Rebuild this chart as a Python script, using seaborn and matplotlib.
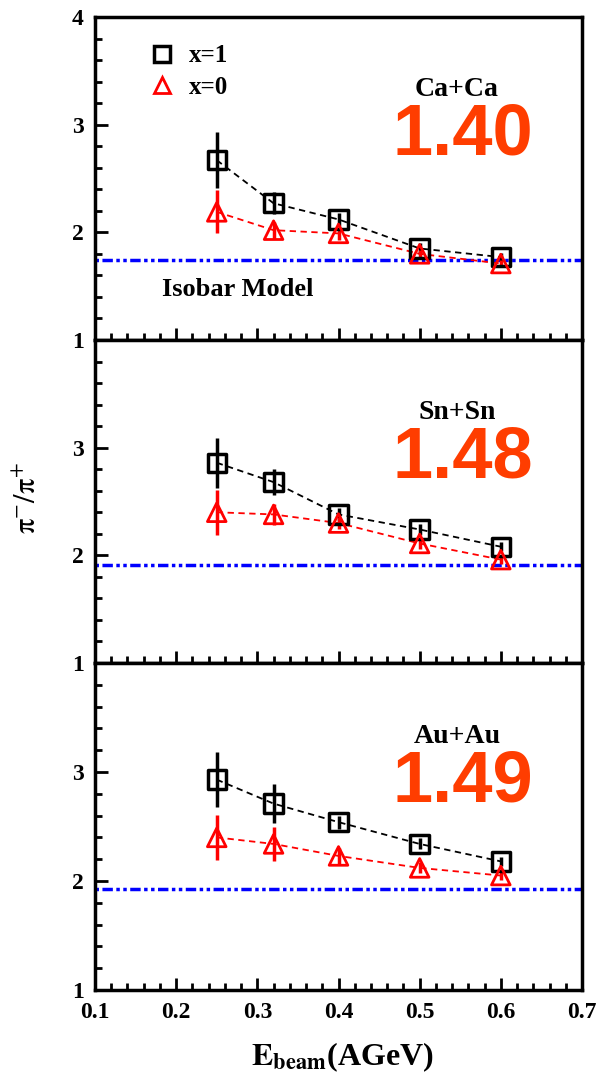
import matplotlib
matplotlib.use("Agg")
import matplotlib.pyplot as plt
from matplotlib.lines import Line2D
from matplotlib.ticker import MultipleLocator
import seaborn as sns
import pandas as pd

# beam energies (AGeV)
energy = [0.25, 0.32, 0.4, 0.5, 0.6]

# pi-/pi+ ratios, x=1 (squares) and x=0 (triangles)
ca_x1 = [2.67, 2.27, 2.12, 1.85, 1.77]
ca_x1_err = [0.26, 0.10, 0.06, 0.05, 0.04]
ca_x0 = [2.19, 2.02, 1.99, 1.80, 1.71]
ca_x0_err = [0.20, 0.08, 0.06, 0.04, 0.03]

sn_x1 = [2.86, 2.68, 2.38, 2.24, 2.08]
sn_x1_err = [0.23, 0.12, 0.06, 0.05, 0.04]
sn_x0 = [2.40, 2.38, 2.30, 2.11, 1.96]
sn_x0_err = [0.21, 0.10, 0.06, 0.05, 0.04]

au_x1 = [2.93, 2.71, 2.54, 2.34, 2.18]
au_x1_err = [0.25, 0.18, 0.06, 0.05, 0.04]
au_x0 = [2.40, 2.34, 2.23, 2.12, 2.05]
au_x0_err = [0.21, 0.16, 0.07, 0.05, 0.04]

systems = ["Ca+Ca", "Sn+Sn", "Au+Au"]
big_labels = ["1.40", "1.48", "1.49"]
isobar = [1.74, 1.91, 1.93]

panels = [
    (ca_x1, ca_x1_err, ca_x0, ca_x0_err),
    (sn_x1, sn_x1_err, sn_x0, sn_x0_err),
    (au_x1, au_x1_err, au_x0, au_x0_err),
]

sns.set_style("ticks", {"axes.edgecolor": "black", "xtick.color": "black",
                        "ytick.color": "black", "text.color": "black",
                        "axes.labelcolor": "black"})
plt.rcParams["font.family"] = ["Liberation Serif", "DejaVu Serif"]
plt.rcParams["mathtext.fontset"] = "stix"

fig = plt.figure(figsize=(5.98, 10.85), dpi=100)
left, width = 95 / 598, 487 / 598
bottom_px = [340, 663, 990]
top_px = [17, 340, 663]

axes = []
for i in range(3):
    b = 1 - bottom_px[i] / 1085
    h = (bottom_px[i] - top_px[i]) / 1085
    axes.append(fig.add_axes([left, b, width, h]))

for i, ax in enumerate(axes):
    x1, x1e, x0, x0e = panels[i]
    df = pd.DataFrame({"E": energy, "x1": x1, "x0": x0})

    ax.axhline(isobar[i], color="#0000ff", lw=2.5, ls=(0, (1, 1, 3, 1, 1, 1)), zorder=1)

    sns.lineplot(data=df, x="E", y="x1", ax=ax, color="black", lw=1.3,
                 linestyle=(0, (3.5, 2.5)), zorder=2)
    sns.lineplot(data=df, x="E", y="x0", ax=ax, color="red", lw=1.3,
                 linestyle=(0, (3.5, 2.5)), zorder=2)

    ax.errorbar(energy, x1, yerr=x1e, fmt="none", ecolor="black", elinewidth=2.5, capsize=0, zorder=3)
    ax.errorbar(energy, x0, yerr=x0e, fmt="none", ecolor="red", elinewidth=2.5, capsize=0, zorder=3)

    sns.scatterplot(x=energy, y=x1, ax=ax, marker="s", s=175, facecolor="none",
                    edgecolor="black", linewidth=2.5, zorder=4)
    sns.scatterplot(x=energy, y=x0, ax=ax, marker="^", s=180, facecolor="none",
                    edgecolor="red", linewidth=2.0, zorder=4)

    ax.set_xlim(0.1, 0.7)
    ax.set_ylim(1, 4)
    ax.set_xlabel("")
    ax.set_ylabel("")
    ax.xaxis.set_major_locator(MultipleLocator(0.1))
    ax.xaxis.set_minor_locator(MultipleLocator(0.02))
    ax.yaxis.set_major_locator(MultipleLocator(1))
    ax.yaxis.set_minor_locator(MultipleLocator(0.2))
    ax.tick_params(which="both", direction="in", top=False, right=False, width=2, colors="black")
    ax.tick_params(which="major", length=9, labelsize=17)
    ax.tick_params(which="minor", length=5)
    ax.tick_params(axis="y", pad=8)
    for s in ax.spines.values():
        s.set_linewidth(2.5)
        s.set_color("black")

    if i > 0:
        ax.set_yticks([1, 2, 3])
    if i < 2:
        ax.tick_params(axis="x", labelbottom=False)
    else:
        ax.set_xticks([0.1, 0.2, 0.3, 0.4, 0.5, 0.6, 0.7])
        ax.tick_params(axis="x", pad=9)
    for lab in ax.get_yticklabels() + ax.get_xticklabels():
        lab.set_fontweight("bold")

    ax.text(0.546, 3.33, systems[i], ha="center", va="center", fontsize=20, fontweight="bold")
    ax.text(0.553, 2.9, big_labels[i], ha="center", va="center", fontsize=52,
            fontweight="bold", color="#ff3d00", family="Liberation Sans")

axes[0].text(0.138, 1.465, "Isobar Model", transform=axes[0].get_yaxis_transform(),
             ha="left", va="center", fontsize=19, fontweight="bold")

handles = [
    Line2D([], [], marker="s", ls="none", mfc="none", mec="black", mew=2.5, ms=12),
    Line2D([], [], marker="^", ls="none", mfc="none", mec="red", mew=2.0, ms=12),
]
axes[0].legend(handles, ["x=1", "x=0"], loc="upper left", bbox_to_anchor=(0.06, 0.985),
               frameon=False, prop={"size": 18, "weight": "bold"},
               handletextpad=0.5, labelspacing=0.35, handlelength=1.2)

fig.text(0.047, 0.541, r"$\mathrm{\pi}^{-}/\mathrm{\pi}^{+}$", rotation=90,
         ha="center", va="center", fontsize=22)
fig.text(0.572, 0.026, r"$\mathbf{E}_{\mathbf{beam}}$(AGeV)", ha="center", va="center",
         fontsize=23, fontweight="bold")

fig.savefig("out.png", dpi=100)
